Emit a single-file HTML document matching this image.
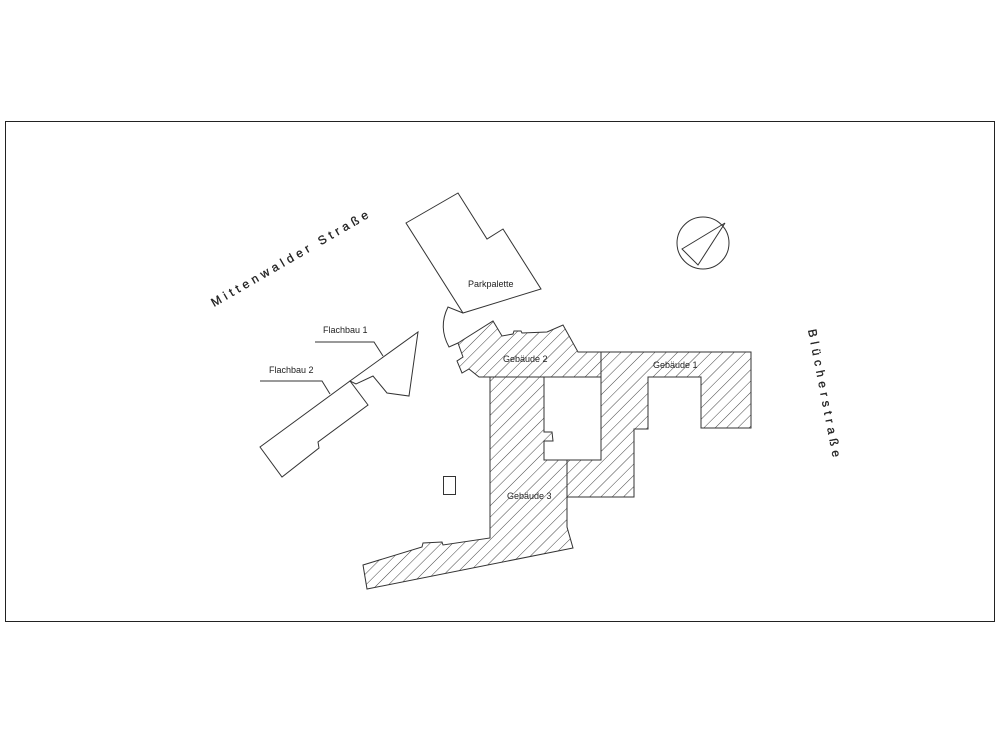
<!DOCTYPE html>
<html><head><meta charset="utf-8"><style>
html,body{margin:0;padding:0;background:#fff;}
svg{display:block;}
text{font-family:"Liberation Sans",sans-serif;fill:#222;}
</style></head><body>
<svg width="1000" height="743" viewBox="0 0 1000 743" xmlns="http://www.w3.org/2000/svg">
<defs>
<pattern id="h" patternUnits="userSpaceOnUse" width="8" height="8" patternTransform="rotate(45)">
<rect width="8" height="8" fill="#fff"/>
<line x1="0" y1="0" x2="0" y2="8" stroke="#444" stroke-width="1"/>
</pattern>
</defs>
<rect x="5.5" y="121.5" width="989" height="500" fill="none" stroke="#222" stroke-width="1"/>
<g fill="none" stroke="#333" stroke-width="1">
<polygon points="406,223 458,193 487,239 503,229 541,289 463,313"/>
<path d="M463,313 L448,307 Q438,327 449,347 L458,343"/>
<polygon points="260,447 350,381 368,405 318,442 319,448 282,477"/>
<polygon points="350,381 418,332 409,396 387,393 373,376 356,384"/>
<polyline points="315,342 374,342 383,356"/>
<polyline points="260,381 322,381 330,394"/>
<rect x="443.5" y="476.5" width="12" height="18"/>
<circle cx="703" cy="243" r="26"/>
<polygon points="682,249 725,223 698,265"/>
</g>
<g fill="url(#h)" stroke="#333" stroke-width="1">
<polygon points="458,343 493,321 502,336 513,334 514,331 521,331 522,333 547,332 563,325 578,352 601,352 601,377 479,377 469,369 462,373 457,361 463,357"/>
<polygon points="601,352 751,352 751,428 701,428 701,377 648,377 648,429 634,429 634,497 567,497 567,460 601,460"/>
<polygon points="490,377 544,377 544,432 552,432 553,441 544,441 544,460 567,460 567,527 573,548 367,589 363,565 422,547 423,543 442,542 443,545 490,538"/>
</g>
<g font-size="9">
<text x="468" y="287">Parkpalette</text>
<text x="503" y="362">Gebäude 2</text>
<text x="653" y="368">Gebäude 1</text>
<text x="507" y="499">Gebäude 3</text>
<text x="323" y="333">Flachbau 1</text>
<text x="269" y="373">Flachbau 2</text>
</g>
<text x="0" y="0" font-size="12" letter-spacing="4" stroke="#222" stroke-width="0.3" transform="translate(214,307) rotate(-30)">Mittenwalder Straße</text>
<text x="0" y="0" font-size="12" letter-spacing="4.6" stroke="#222" stroke-width="0.3" transform="translate(808,330) rotate(79)">Blücherstraße</text>
</svg>
</body></html>
